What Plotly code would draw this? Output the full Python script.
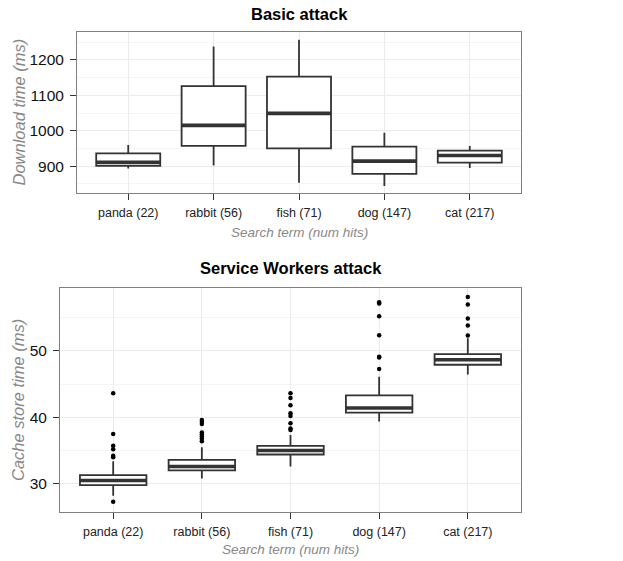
import plotly.graph_objects as go

# ---------------- data ----------------
categories = ["panda (22)", "rabbit (56)", "fish (71)", "dog (147)", "cat (217)"]
positions = [1, 2, 3, 4, 5]

# Basic attack: download time (ms)
basic_q1 = [901, 957, 950, 878, 910]
basic_median = [911, 1015, 1049, 914, 930]
basic_q3 = [936, 1126, 1153, 955, 944]
basic_lower = [893, 902, 853, 844, 895]
basic_upper = [960, 1238, 1257, 994, 957]

# Service Workers attack: cache store time (ms)
sw_q1 = [29.8, 32.0, 34.4, 40.7, 47.9]
sw_median = [30.5, 32.6, 35.0, 41.4, 48.65]
sw_q3 = [31.3, 33.6, 35.7, 43.3, 49.5]
sw_lower = [28.2, 30.8, 32.6, 39.35, 46.45]
sw_upper = [33.4, 35.5, 37.35, 46.1, 51.9]

sw_outliers_panda = [43.6, 37.5, 35.7, 35.2, 34.2, 34.0, 27.3]
sw_outliers_rabbit = [39.6, 39.3, 39.0, 37.7, 37.4, 37.1, 36.8, 36.4]
sw_outliers_fish = [43.6, 42.9, 41.8, 40.6, 40.2, 39.1, 38.3, 38.1]
sw_outliers_dog = [57.3, 57.1, 55.2, 52.35, 49.1, 49.0, 47.25]
sw_outliers_cat = [58.1, 56.95, 54.85, 53.8, 52.3]

# ---------------- style ----------------
FONT = "Liberation Sans, Arial, Helvetica, sans-serif"
BOX_COLOR = "#333333"
BOX_W = 0.75
W, H = 623, 561

fig = go.Figure()


def add_panel(xref, yref, q1, med, q3, lo, hi, outliers=None):
    fig.add_trace(go.Box(
        x=positions, q1=q1, median=med, q3=q3, lowerfence=lo, upperfence=hi,
        width=BOX_W, whiskerwidth=0, fillcolor="white",
        line=dict(color=BOX_COLOR, width=1.8), boxpoints=False,
        xaxis=xref, yaxis=yref, showlegend=False, hoverinfo="skip"))
    # thicker median bar (ggplot style)
    mx, my = [], []
    for p, m in zip(positions, med):
        mx += [p - BOX_W / 2, p + BOX_W / 2, None]
        my += [m, m, None]
    fig.add_trace(go.Scatter(x=mx, y=my, mode="lines",
                             line=dict(color=BOX_COLOR, width=3.6),
                             xaxis=xref, yaxis=yref, showlegend=False,
                             hoverinfo="skip"))
    if outliers:
        ox, oy = [], []
        for p, vals in zip(positions, outliers):
            ox += [p] * len(vals)
            oy += vals
        fig.add_trace(go.Scatter(x=ox, y=oy, mode="markers",
                                 marker=dict(color="black", size=4.5),
                                 xaxis=xref, yaxis=yref, showlegend=False,
                                 hoverinfo="skip"))


add_panel("x", "y", basic_q1, basic_median, basic_q3, basic_lower, basic_upper)
add_panel("x2", "y2", sw_q1, sw_median, sw_q3, sw_lower, sw_upper,
          [sw_outliers_panda, sw_outliers_rabbit, sw_outliers_fish,
           sw_outliers_dog, sw_outliers_cat])

# panel pixel boxes -> paper domains
top_px = dict(l=77, r=521, t=32, b=193)
bot_px = dict(l=60, r=521, t=288, b=512)


def dom(px):
    return [px["l"] / W, px["r"] / W], [1 - px["b"] / H, 1 - px["t"] / H]


tx, ty = dom(top_px)
bx, by = dom(bot_px)

common_x = dict(
    range=[0.4, 5.6], tickvals=positions, ticktext=categories,
    showgrid=True, gridcolor="#ebebeb", gridwidth=1,
    ticks="outside", ticklen=6, tickwidth=1.3, tickcolor="#333333",
    showline=True, mirror=True, linecolor="#808080", linewidth=1,
    tickfont=dict(family=FONT, size=12.5, color="#222222"),
    ticklabelstandoff=2, zeroline=False, fixedrange=True)
common_y = dict(
    showgrid=True, gridcolor="#ebebeb", gridwidth=1,
    ticks="outside", ticklen=6, tickwidth=1.3, tickcolor="#333333",
    showline=True, mirror=True, linecolor="#808080", linewidth=1,
    tickfont=dict(family=FONT, size=15.5, color="#111111"),
    ticklabelstandoff=3, zeroline=False, fixedrange=True)

fig.update_layout(
    width=W, height=H,
    margin=dict(l=0, r=0, t=0, b=0),
    paper_bgcolor="white", plot_bgcolor="white",
    xaxis=dict(domain=tx, anchor="y", **common_x),
    yaxis=dict(domain=ty, anchor="x", range=[824, 1279], tickvals=[900, 1000, 1100, 1200],
               minor=dict(showgrid=True, gridcolor="#f5f5f5", gridwidth=0.8,
                          tickvals=[850, 950, 1050, 1150, 1250], ticks=""),
               **common_y),
    xaxis2=dict(domain=bx, anchor="y2", **common_x),
    yaxis2=dict(domain=by, anchor="x2", range=[25.75, 59.45], tickvals=[30, 40, 50],
                minor=dict(showgrid=True, gridcolor="#f5f5f5", gridwidth=0.8,
                           tickvals=[35, 45, 55], ticks=""),
                **common_y),
)


def ann(text, xpx, ypx, size, color="#000000", bold=False, italic=False, angle=0):
    t = text
    if bold:
        t = "<b>" + t + "</b>"
    if italic:
        t = "<i>" + t + "</i>"
    fig.add_annotation(text=t, x=xpx / W, y=1 - ypx / H, xref="paper", yref="paper",
                       showarrow=False, xanchor="center", yanchor="middle",
                       textangle=angle, font=dict(family=FONT, size=size, color=color))


ann("Basic attack", (top_px["l"] + top_px["r"]) / 2, 14, 16.5, bold=True)
ann("Service Workers attack", (bot_px["l"] + bot_px["r"]) / 2, 268, 16.5, bold=True)
ann("Search term (num hits)", (top_px["l"] + top_px["r"]) / 2, 233, 13.5, color="#888888", italic=True)
ann("Search term (num hits)", (bot_px["l"] + bot_px["r"]) / 2, 549, 13.5, color="#888888", italic=True)
ann("Download time (ms)", 18, (top_px["t"] + top_px["b"]) / 2, 16.5, color="#888888", italic=True, angle=-90)
ann("Cache store time (ms)", 18, (bot_px["t"] + bot_px["b"]) / 2, 16.5, color="#888888", italic=True, angle=-90)

fig.write_html("out.html", post_script="document.body.style.margin='0px';",
               config={"displayModeBar": False})
